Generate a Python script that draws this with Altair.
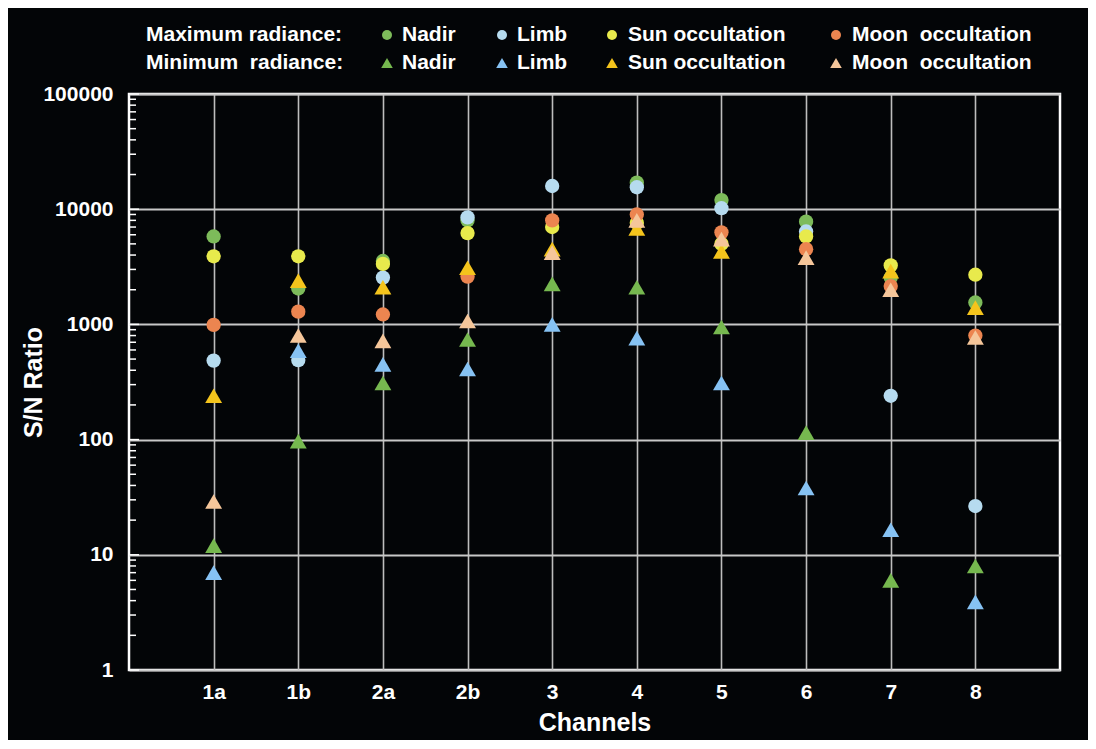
import altair as alt
import pandas as pd

# ---------------- data ----------------
channels = ["1a", "1b", "2a", "2b", "3", "4", "5", "6", "7", "8"]

nadir_max = [5800, 2050, 3550, 8000, None, 17000, 12000, 7800, 2550, 1550]
limb_max = [485, 490, 2550, 8500, 15900, 15500, 10200, 6400, 240, 26.5]
sun_max = [3900, 3900, 3350, 6200, 7000, 7600, 5000, 5800, 3250, 2700]
moon_max = [990, 1290, 1220, 2600, 8000, 9000, 6300, 4500, 2150, 800]
nadir_min = [12, 97, 310, 740, 2250, 2100, 950, 115, 6, 8]
limb_min = [7, 590, 450, 410, 1000, 760, 310, 38, 16.5, 3.9]
sun_min = [240, 2400, 2100, 3100, 4500, 6800, 4300, None, 2900, 1400]
moon_min = [29, 800, 720, 1070, 4200, 8000, 5500, 3800, 2000, 770]

series_keys = ["Nadir max", "Limb max", "Sun max", "Moon max",
               "Nadir min", "Limb min", "Sun min", "Moon min"]
series_values = [nadir_max, limb_max, sun_max, moon_max,
                 nadir_min, limb_min, sun_min, moon_min]
series_colors = ["#7dbb5a", "#b6dbef", "#e8ea4c", "#ec8550",
                 "#76b84f", "#86c2f3", "#f4c41c", "#f5c69a"]
series_shapes = ["circle"] * 4 + ["triangle-up"] * 4
series_sizes = [205] * 4 + [285] * 4
legend_sizes = [100] * 4 + [135] * 4

legend_labels = ["Nadir", "Limb", "Sun occultation", "Moon\u00a0\u00a0occultation"]
row_labels = ["Maximum radiance:", "Minimum\u00a0\u00a0radiance:"]

# ---------------- tables ----------------
rows = []
for key, vals in zip(series_keys, series_values):
    for ch, v in zip(channels, vals):
        if v is not None:
            rows.append({"channel": ch, "value": v, "series": key})
df = pd.DataFrame(rows)

# inner y ticks (minor at 2..9 per decade, major at decades)
minor = [m * 10 ** k for k in range(5) for m in range(2, 10)]
major = [10 ** k for k in range(6)]
minor_df = pd.DataFrame({"value": minor})
major_df = pd.DataFrame({"value": major})

# custom legend layout (pixels relative to plot origin)
sym_x = [258, 373, 483, 707]
txt_x = [273, 388, 499, 723]
row_y = [-59, -31]
leg_sym = []
leg_txt = []
for r in range(2):
    leg_txt.append({"px": 17, "py": row_y[r], "label": row_labels[r]})
    for i in range(4):
        leg_sym.append({"px": sym_x[i], "py": row_y[r], "series": series_keys[r * 4 + i]})
        leg_txt.append({"px": txt_x[i], "py": row_y[r], "label": legend_labels[i]})
leg_sym_df = pd.DataFrame(leg_sym)
leg_txt_df = pd.DataFrame(leg_txt)

FONT = "Liberation Sans"

color_scale = alt.Scale(domain=series_keys, range=series_colors)
shape_scale = alt.Scale(domain=series_keys, range=series_shapes)
size_scale = alt.Scale(type="ordinal", domain=series_keys, range=series_sizes)
leg_size_scale = alt.Scale(type="ordinal", domain=series_keys, range=legend_sizes)
y_scale = alt.Scale(type="log", domain=[1, 100000])

x_enc = alt.X(
    "channel:N", sort=channels,
    scale=alt.Scale(type="point", padding=1),
    axis=alt.Axis(
        title="Channels", labelAngle=0, labelFontSize=21, labelFontWeight="bold",
        labelColor="white", labelFont=FONT, labelPadding=11, ticks=False, domain=False,
        grid=True, gridColor="#bdbdbd", gridWidth=1.6,
        titleFontSize=25, titleFontWeight="bold", titleColor="white", titleFont=FONT,
        titlePadding=8,
    ),
)
y_axis = alt.Axis(
    title="S/N Ratio", values=major, format="d", labelFontSize=21,
    labelFontWeight="bold", labelColor="white", labelFont=FONT, labelPadding=16,
    ticks=False, domain=False, grid=True, gridColor="#c8c8c8", gridWidth=2,
    titleFontSize=25, titleFontWeight="bold", titleColor="white", titleFont=FONT,
    titleX=-96, titleY=288, titleAngle=270, titleBaseline="middle", titleAlign="center",
)

minor_ticks = alt.Chart(minor_df).mark_rule(color="white", strokeWidth=1.5).encode(
    y=alt.Y("value:Q", scale=y_scale, axis=y_axis),
    x=alt.value(0),
    x2=alt.value(7),
)
major_ticks = alt.Chart(major_df).mark_rule(color="white", strokeWidth=1.5).encode(
    y=alt.Y("value:Q", scale=y_scale, axis=y_axis),
    x=alt.value(0),
    x2=alt.value(10),
)

points = alt.Chart(df).mark_point(filled=True, opacity=1, strokeWidth=0).encode(
    x=x_enc,
    y=alt.Y("value:Q", scale=y_scale, axis=y_axis),
    color=alt.Color("series:N", scale=color_scale, legend=None),
    shape=alt.Shape("series:N", scale=shape_scale, legend=None),
    size=alt.Size("series:N", scale=size_scale, legend=None),
)

leg_symbols = alt.Chart(leg_sym_df).mark_point(filled=True, opacity=1, strokeWidth=0).encode(
    x=alt.X("px:Q", scale=None, axis=None),
    y=alt.Y("py:Q", scale=None, axis=None),
    color=alt.Color("series:N", scale=color_scale, legend=None),
    shape=alt.Shape("series:N", scale=shape_scale, legend=None),
    size=alt.Size("series:N", scale=leg_size_scale, legend=None),
)
leg_text = alt.Chart(leg_txt_df).mark_text(
    align="left", baseline="middle", fontSize=21, fontWeight="bold", font=FONT, color="white"
).encode(
    x=alt.X("px:Q", scale=None, axis=None),
    y=alt.Y("py:Q", scale=None, axis=None),
    text="label:N",
)

inner = alt.layer(minor_ticks, major_ticks, points)

chart = alt.layer(
    inner,
    leg_symbols,
    leg_text,
).resolve_scale(x="independent", y="independent", size="independent").properties(
    width=931, height=576,
    autosize=alt.AutoSizeParams(type="none"),
    padding={"left": 121, "top": 86, "right": 28, "bottom": 70},
    background="#030507",
).configure_view(stroke="white", strokeWidth=2.5)

chart.save("out.html", embed_options={"renderer": "svg", "actions": False})
